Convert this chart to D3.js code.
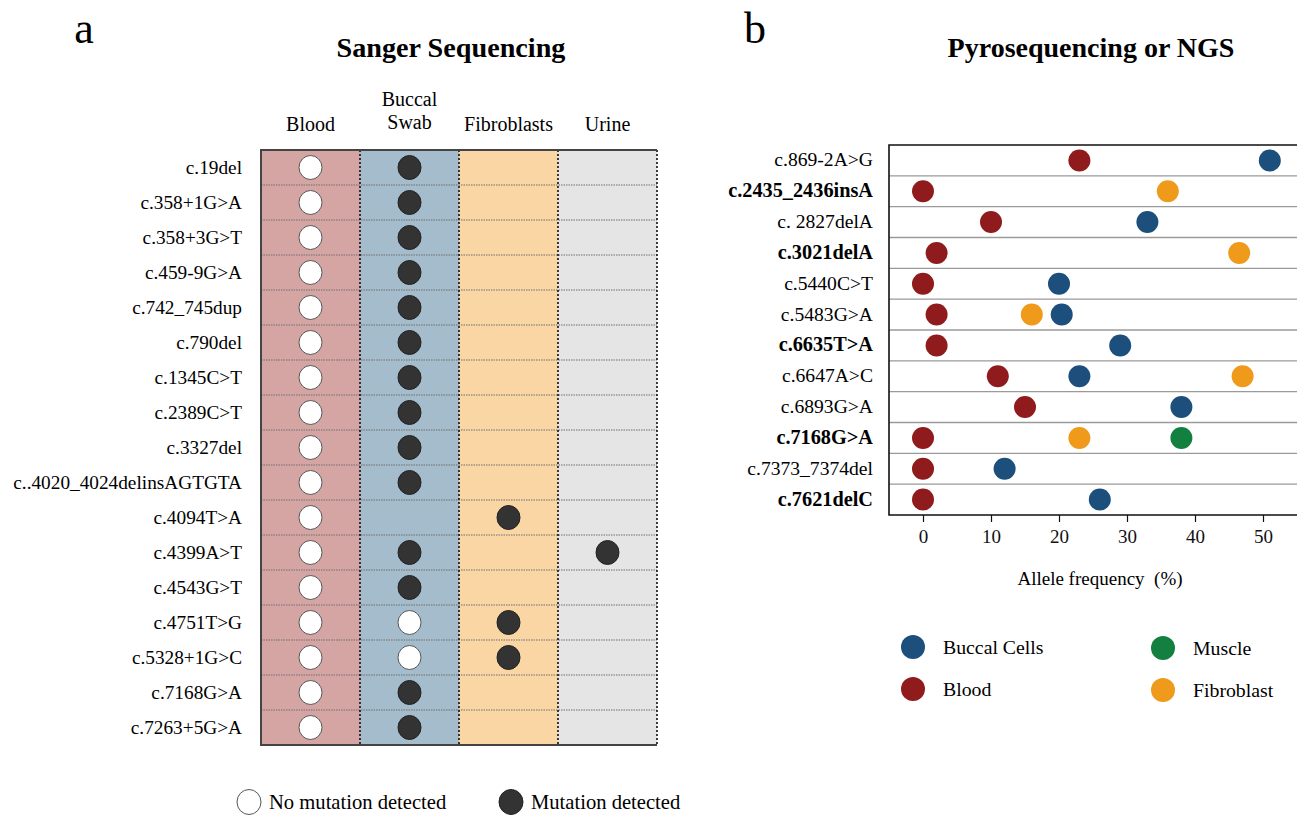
<!DOCTYPE html>
<html>
<head>
<meta charset="utf-8">
<script src="https://cdn.jsdelivr.net/npm/d3@7"></script>
<style>
  html, body { margin: 0; padding: 0; background: #fff; }
  svg { display: block; font-family: 'Liberation Serif', 'Times New Roman', serif; }
</style>
</head>
<body>
<svg id="chart" width="1297" height="815"></svg>
<script>
// ---- panel a: Sanger sequencing ----
const sangerVariants = [
  'c.19del', 'c.358+1G>A', 'c.358+3G>T', 'c.459-9G>A', 'c.742_745dup', 'c.790del',
  'c.1345C>T', 'c.2389C>T', 'c.3327del', 'c..4020_4024delinsAGTGTA', 'c.4094T>A',
  'c.4399A>T', 'c.4543G>T', 'c.4751T>G', 'c.5328+1G>C', 'c.7168G>A', 'c.7263+5G>A'
];
const sangerTissues = ['Blood', 'Buccal Swab', 'Fibroblasts', 'Urine'];
// 1 = mutation detected, 0 = no mutation detected, null = not tested
const bloodStatus = [0, 0, 0, 0, 0, 0, 0, 0, 0, 0, 0, 0, 0, 0, 0, 0, 0];
const buccalStatus = [1, 1, 1, 1, 1, 1, 1, 1, 1, 1, null, 1, 1, 0, 0, 1, 1];
const fibroStatus = [null, null, null, null, null, null, null, null, null, null, 1, null, null, 1, 1, null, null];
const urineStatus = [null, null, null, null, null, null, null, null, null, null, null, 1, null, null, null, null, null];

// ---- panel b: pyrosequencing / NGS ----
const ngsVariants = [
  'c.869-2A>G', 'c.2435_2436insA', 'c. 2827delA', 'c.3021delA', 'c.5440C>T', 'c.5483G>A',
  'c.6635T>A', 'c.6647A>C', 'c.6893G>A', 'c.7168G>A', 'c.7373_7374del', 'c.7621delC'
];
const ngsBold = ['c.2435_2436insA', 'c.3021delA', 'c.6635T>A', 'c.7168G>A', 'c.7621delC'];
const ngsBlood = [23, 0, 10, 2, 0, 2, 2, 11, 15, 0, 0, 0];
const ngsBuccal = [51, null, 33, null, 20, 20.4, 29, 23, 38, null, 12, 26];
const ngsFibroblast = [null, 36, null, 46.5, null, 16, null, 47, null, 23, null, null];
const ngsMuscle = [null, null, null, null, null, null, null, null, null, 38, null, null];
const ngsTicks = [0, 10, 20, 30, 40, 50];

const svg = d3.select('#chart');

// ================= panel a =================
const ga = svg.append('g');
ga.append('text').attr('x', 84).attr('y', 43).attr('text-anchor', 'middle')
  .style('font-size', '44px').text('a');
ga.append('text').attr('x', 451).attr('y', 57).attr('text-anchor', 'middle')
  .style('font-size', '28.2px').style('font-weight', 'bold').text('Sanger Sequencing');

const xa = d3.scaleBand().domain(sangerTissues).range([261, 657]);
const ya = d3.scaleBand().domain(sangerVariants).range([150, 745]);
const cellFill = { 'Blood': '#d5a5a4', 'Buccal Swab': '#a5bccc', 'Fibroblasts': '#f9d6a4', 'Urine': '#e5e5e5' };

ga.selectAll('rect.col').data(sangerTissues).enter().append('rect')
  .attr('x', d => xa(d)).attr('y', 150)
  .attr('width', xa.bandwidth()).attr('height', 595)
  .attr('fill', d => cellFill[d]);

// row separators (dotted gray)
ga.selectAll('line.row').data(sangerVariants.slice(1)).enter().append('line')
  .attr('x1', 261).attr('x2', 657)
  .attr('y1', d => ya(d)).attr('y2', d => ya(d))
  .attr('stroke', '#6f6f6f').attr('stroke-width', 1.2).attr('stroke-dasharray', '1.5,1');

// column separators (dotted black)
ga.selectAll('line.col').data(sangerTissues.slice(1).map(d => xa(d)).concat([657])).enter().append('line')
  .attr('x1', d => d).attr('x2', d => d).attr('y1', 150).attr('y2', 745)
  .attr('stroke', '#111').attr('stroke-width', 1.6).attr('stroke-dasharray', '2,2');

// outer solid edges
ga.append('path').attr('d', 'M657,150H261V745H657')
  .attr('fill', 'none').attr('stroke', '#444').attr('stroke-width', 2);

// column headers
const headerLines = { 'Blood': ['Blood'], 'Buccal Swab': ['Buccal', 'Swab'], 'Fibroblasts': ['Fibroblasts'], 'Urine': ['Urine'] };
sangerTissues.forEach(t => {
  const lines = headerLines[t];
  lines.forEach((ln, i) => {
    ga.append('text')
      .attr('x', xa(t) + xa.bandwidth() / 2)
      .attr('y', lines.length === 1 ? 131 : 106 + i * 23)
      .attr('text-anchor', 'middle').style('font-size', '20px').text(ln);
  });
});

// row labels
ga.selectAll('text.rowlab').data(sangerVariants).enter().append('text')
  .attr('x', 242).attr('y', d => ya(d) + ya.bandwidth() / 2 + 6)
  .attr('text-anchor', 'end').style('font-size', '19.3px').text(d => d);

// circles
const statusBySample = { 'Blood': bloodStatus, 'Buccal Swab': buccalStatus, 'Fibroblasts': fibroStatus, 'Urine': urineStatus };
sangerTissues.forEach(t => {
  const pts = sangerVariants.map((v, i) => ({ v, s: statusBySample[t][i] })).filter(p => p.s !== null);
  ga.selectAll(null).data(pts).enter().append('ellipse')
    .attr('cx', xa(t) + xa.bandwidth() / 2)
    .attr('cy', p => ya(p.v) + ya.bandwidth() / 2)
    .attr('rx', 11.5).attr('ry', 12)
    .attr('fill', p => p.s ? '#333' : '#fff')
    .attr('stroke', p => p.s ? '#222' : '#555').attr('stroke-width', 1);
});

// legend a
const legA = [{ label: 'No mutation detected', s: 0, x: 249 }, { label: 'Mutation detected', s: 1, x: 511 }];
legA.forEach(l => {
  ga.append('ellipse').attr('cx', l.x).attr('cy', 802).attr('rx', 12).attr('ry', 12.5)
    .attr('fill', l.s ? '#333' : '#fff').attr('stroke', l.s ? '#222' : '#555').attr('stroke-width', 1);
  ga.append('text').attr('x', l.x + 20).attr('y', 809).style('font-size', '20.6px').text(l.label);
});

// ================= panel b =================
const gb = svg.append('g');
gb.append('text').attr('x', 755).attr('y', 43).attr('text-anchor', 'middle')
  .style('font-size', '44px').text('b');
gb.append('text').attr('x', 1091).attr('y', 57).attr('text-anchor', 'middle')
  .style('font-size', '28px').style('font-weight', 'bold').text('Pyrosequencing or NGS');

const xb = d3.scaleLinear().domain([-5, 55]).range([889, 1297]);
const yb = d3.scaleBand().domain(ngsVariants).range([145, 515]);

// row separators
gb.selectAll('line.sep').data(ngsVariants.slice(1)).enter().append('line')
  .attr('x1', 889).attr('x2', 1297)
  .attr('y1', d => yb(d)).attr('y2', d => yb(d))
  .attr('stroke', '#9a9a9a').attr('stroke-width', 1.4);

// frame
gb.append('path').attr('d', 'M1297,145H889V515H1297')
  .attr('fill', 'none').attr('stroke', '#111').attr('stroke-width', 1.6);

// x axis
const axisB = gb.append('g').attr('transform', 'translate(0,515)')
  .call(d3.axisBottom(xb).tickValues(ngsTicks).tickSize(7).tickPadding(8).tickFormat(d3.format('d')));
axisB.select('.domain').remove();
axisB.selectAll('line').attr('stroke', '#111').attr('stroke-width', 1.2);
axisB.selectAll('text').style('font-family', "'Liberation Serif', serif").style('font-size', '19px').attr('fill', '#111');

gb.append('text').attr('x', 1100).attr('y', 585).attr('text-anchor', 'middle')
  .style('font-size', '19px').style('white-space', 'pre').text('Allele frequency  (%)');

// row labels
gb.selectAll('text.ngslab').data(ngsVariants).enter().append('text')
  .attr('x', 873).attr('y', d => yb(d) + yb.bandwidth() / 2 + 6)
  .attr('text-anchor', 'end')
  .style('font-size', d => ngsBold.includes(d) ? '20.3px' : '19.6px')
  .style('font-weight', d => ngsBold.includes(d) ? 'bold' : 'normal')
  .text(d => d);

// dots
const ngsSeries = [
  { name: 'Buccal Cells', color: '#1c4f7c', values: ngsBuccal },
  { name: 'Blood', color: '#8f1b1c', values: ngsBlood },
  { name: 'Muscle', color: '#13803f', values: ngsMuscle },
  { name: 'Fibroblast', color: '#ef9a1a', values: ngsFibroblast }
];
ngsSeries.forEach(s => {
  const pts = ngsVariants.map((v, i) => ({ v, val: s.values[i] })).filter(p => p.val !== null);
  gb.selectAll(null).data(pts).enter().append('circle')
    .attr('cx', p => xb(p.val))
    .attr('cy', p => yb(p.v) + yb.bandwidth() / 2)
    .attr('r', 11)
    .attr('fill', s.color);
});

// legend b
const legB = [
  { s: ngsSeries[0], x: 913, y: 647 },
  { s: ngsSeries[1], x: 913, y: 689 },
  { s: ngsSeries[2], x: 1163, y: 648 },
  { s: ngsSeries[3], x: 1163, y: 690 }
];
legB.forEach(l => {
  gb.append('ellipse').attr('cx', l.x).attr('cy', l.y).attr('rx', 12).attr('ry', 12)
    .attr('fill', l.s.color);
  gb.append('text').attr('x', l.x + 30).attr('y', l.y + 7).style('font-size', '19.8px').text(l.s.name);
});
</script>
</body>
</html>
